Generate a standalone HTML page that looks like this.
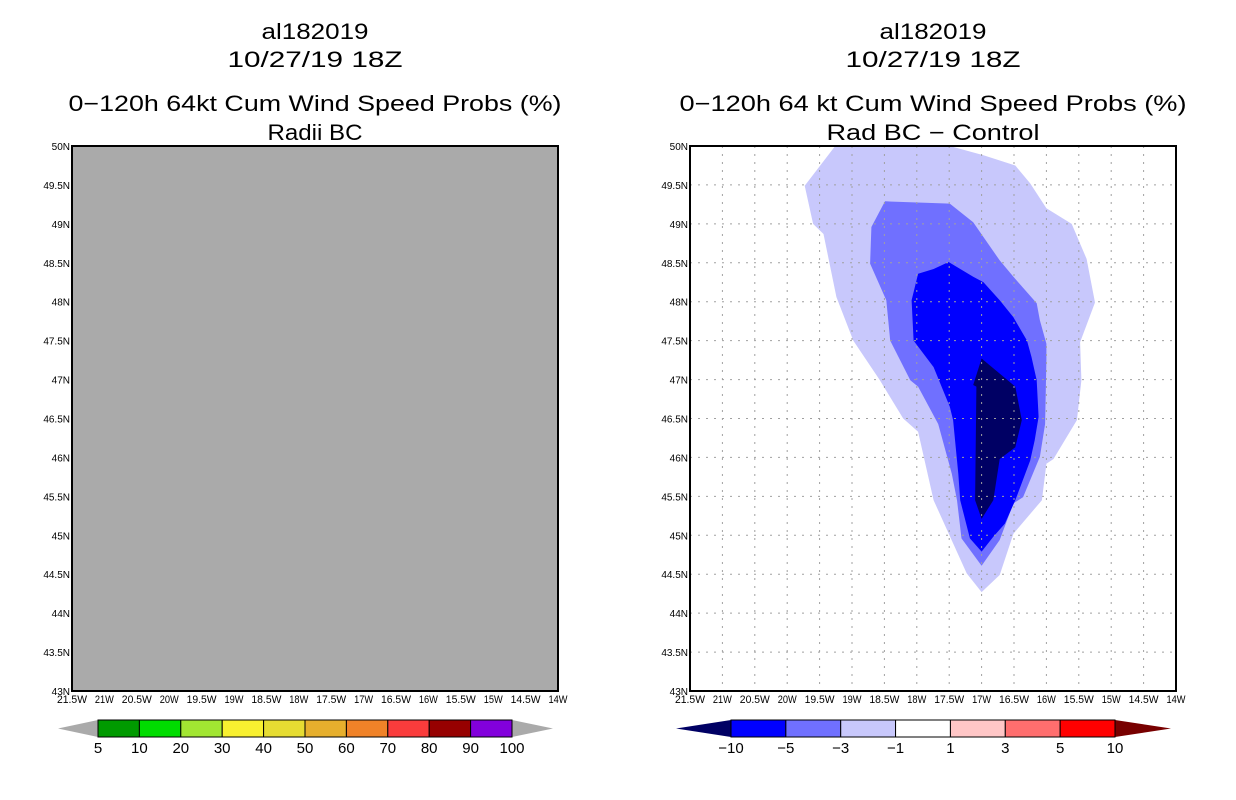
<!DOCTYPE html>
<html><head><meta charset="utf-8"><style>
body{margin:0;background:#fff;width:1236px;height:800px;overflow:hidden}
svg{display:block;font-family:"Liberation Sans",sans-serif}
</style></head><body>
<svg id="c" width="1236" height="800"></svg>
<script>
const lonTicks=[21.5,21,20.5,20,19.5,19,18.5,18,17.5,17,16.5,16,15.5,15,14.5,14];
const latTicks=[50,49.5,49,48.5,48,47.5,47,46.5,46,45.5,45,44.5,44,43.5,43];
const leftLevels=["5","10","20","30","40","50","60","70","80","90","100"];
const leftColors=["#009a00","#00dc00","#a2e632","#f8f030","#e6dc32","#e6af2d","#f08228","#fa3c3c","#960000","#8200dc"];
const rightLevels=["−10","−5","−3","−1","1","3","5","10"];
const rightColors=["#0000ff","#7070ff","#c8c8fc","#ffffff","#ffc6c6","#ff6e6e","#ff0000"];
const c1Lon=[19.26,17.49,16.97,16.48,16.25,16.00,15.61,15.38,15.25,15.48,15.46,15.53,15.89,16.00,16.07,16.51,16.72,17.00,17.23,17.74,17.98,18.21,18.57,18.98,19.24,19.44,19.60,19.73];
const c1Lat=[50,50,49.88,49.75,49.52,49.20,49.00,48.55,47.99,47.48,46.99,46.48,45.98,45.92,45.45,45.02,44.49,44.27,44.51,45.45,46.33,46.50,46.99,47.50,48.06,48.87,49.00,49.49];
const c2Lon=[18.49,17.49,17.13,16.72,16.51,16.15,16.10,16.00,16.00,16.02,16.10,16.36,16.51,16.72,17.00,17.31,17.38,17.46,17.67,17.98,18.10,18.41,18.47,18.72,18.70];
const c2Lat=[49.29,49.26,49.02,48.53,48.32,47.98,47.76,47.46,47.25,46.43,46.01,45.49,45.41,44.94,44.61,44.96,45.45,45.79,46.43,46.91,46.99,47.50,48.02,48.49,48.96];
const c3Lon=[17.51,17.13,16.97,16.72,16.51,16.30,16.23,16.15,16.12,16.18,16.25,16.48,16.64,16.82,17.00,17.18,17.33,17.36,17.44,17.49,17.74,18.05,18.08,17.98,17.74];
const c3Lat=[48.51,48.32,48.25,48.02,47.80,47.50,47.29,46.99,46.52,46.22,45.96,45.45,45.15,44.98,44.79,44.96,45.45,45.79,46.48,46.65,47.16,47.50,48.02,48.36,48.42];
const c4Lon=[17.00,16.48,16.38,16.48,16.72,16.82,17.00,17.10,17.08,17.13];
const c4Lat=[47.27,46.91,46.48,46.13,45.98,45.45,45.21,45.45,46.91,46.93];
const contourColors=["#c8c8fc","#7070ff","#0000ff","#000064"];

const NS="http://www.w3.org/2000/svg",svg=document.getElementById('c');
function mk(t,a,p){const e=document.createElementNS(NS,t);for(const k in a)e.setAttribute(k,a[k]);(p||svg).appendChild(e);return e;}
const PT=146,PB=691,PW=486;
function panel(x0,name,titles){
  const g=mk('g',{});
  
  
  const xS=lon=>x0+(21.5-lon)/7.5*PW, yS=lat=>PB-(lat-43)/7*(PB-PT);
  const cx=x0+PW/2;
  titles.forEach(([t,y,w],i)=>{
    const e=mk('text',{x:cx,y:y+8,'text-anchor':'middle','font-size':22,fill:'#000',textLength:w,lengthAdjust:'spacingAndGlyphs'},g);e.textContent=t;
    
    
  });
  return {g,xS,yS,x0};
}
function axes(p){
  const {g,xS,yS,x0}=p;
  lonTicks.forEach(l=>{const e=mk('text',{x:xS(l),y:703,'text-anchor':'middle','font-size':11,'textLength':l%1?30:19,'lengthAdjust':'spacingAndGlyphs'},g);e.textContent=l+'W';
    });
  latTicks.forEach(l=>{const e=mk('text',{x:x0-2,y:yS(l)+4,'text-anchor':'end','font-size':10},g);e.textContent=l+'N';
    });
}
// left
const L=panel(72,'left-panel',[['al182019',31,107],['10/27/19 18Z',59,175],['0−120h 64kt Cum Wind Speed Probs (%)',103,493],['Radii BC',132,95]]);
const lr=mk('rect',{x:72,y:PT,width:PW,height:PB-PT,fill:'#aaaaaa',stroke:'#000','stroke-width':2},L.g);

axes(L);
// right
const R=panel(690,'right-panel',[['al182019',31,107],['10/27/19 18Z',59,175],['0−120h 64 kt Cum Wind Speed Probs (%)',103,507],['Rad BC − Control',132,213]]);
mk('rect',{x:690,y:PT,width:PW,height:PB-PT,fill:'#fff'},R.g);
[[c1Lon,c1Lat],[c2Lon,c2Lat],[c3Lon,c3Lat],[c4Lon,c4Lat]].forEach(([lo,la],i)=>{
  const pts=lo.map((v,j)=>R.xS(v).toFixed(1)+','+R.yS(la[j]).toFixed(1)).join(' ');
  const e=mk('polygon',{points:pts,fill:contourColors[i]},R.g);
  
  
});
lonTicks.slice(1,-1).forEach(l=>{const e=mk('line',{x1:R.xS(l),x2:R.xS(l),y1:PT,y2:PB,stroke:'#a0a0a0','stroke-dasharray':'2,6'},R.g);
  });
latTicks.slice(1,-1).forEach(l=>{const e=mk('line',{x1:690,x2:1176,y1:R.yS(l),y2:R.yS(l),stroke:'#a0a0a0','stroke-dasharray':'2,6'},R.g);
  });
const rr=mk('rect',{x:690,y:PT,width:PW,height:PB-PT,fill:'none',stroke:'#000','stroke-width':2},R.g);

axes(R);
// colorbars
function cbar(name,bx0,bx1,tipL,tipR,cols,labels,lc,rc){
  const g=mk('g',{});
  
  
  const y0=720,y1=737,ym=728.5,w=(bx1-bx0)/cols.length;
  mk('polygon',{points:`${tipL},${ym} ${bx0},${y0} ${bx0},${y1}`,fill:lc},g);
  mk('polygon',{points:`${tipR},${ym} ${bx1},${y0} ${bx1},${y1}`,fill:rc},g);
  cols.forEach((col,i)=>{const e=mk('rect',{x:bx0+i*w,y:y0,width:w,height:y1-y0,fill:col,stroke:'#000','stroke-width':1},g);
    });
  labels.forEach((t,i)=>{const e=mk('text',{x:bx0+i*w,y:753,'text-anchor':'middle','font-size':15},g);e.textContent=t;
    });
}
cbar('left-colorbar',98,512,58,553,leftColors,leftLevels,'#aaaaaa','#aaaaaa');
cbar('right-colorbar',731,1115,676,1171,rightColors,rightLevels,'#000064','#780000');
</script>
</body></html>
